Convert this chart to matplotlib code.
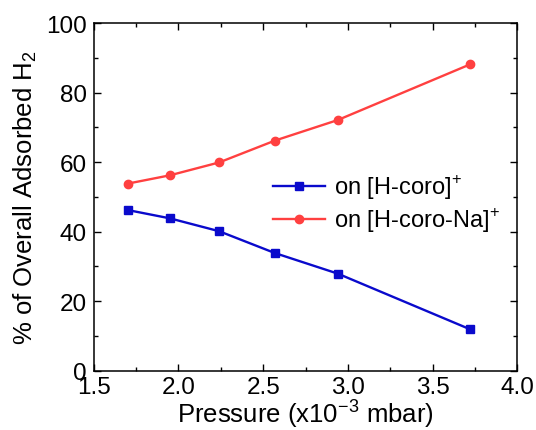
import matplotlib
matplotlib.use("Agg")
import matplotlib.pyplot as plt
from matplotlib.ticker import MultipleLocator

plt.rcParams["font.family"] = ["Liberation Sans", "DejaVu Sans"]
plt.rcParams["mathtext.fontset"] = "custom"
plt.rcParams["mathtext.rm"] = "Liberation Sans"

# data
pressure = [1.70, 1.95, 2.24, 2.57, 2.94, 3.72]
h_coro = [46.2, 43.8, 40.1, 33.8, 27.9, 11.9]
h_coro_na = [53.8, 56.2, 59.9, 66.2, 72.1, 88.1]
labels = ["on [H-coro]$^{+}$", "on [H-coro-Na]$^{+}$"]

fig = plt.figure(figsize=(5.36, 4.31), dpi=100)
ax = fig.add_axes([0.175, 0.138, 0.79, 0.806])

ax.plot(pressure, h_coro, color="#0a0acc", lw=1.7, marker="s", ms=5.5, label=labels[0])
ax.plot(pressure, h_coro_na, color="#ff4040", lw=1.7, marker="o", ms=6, label=labels[1])

ax.set_xlim(1.5, 4.0)
ax.set_ylim(0, 100)
ax.xaxis.set_major_locator(MultipleLocator(0.5))
ax.xaxis.set_minor_locator(MultipleLocator(0.25))
ax.yaxis.set_major_locator(MultipleLocator(20))
ax.yaxis.set_minor_locator(MultipleLocator(10))
ax.xaxis.set_major_formatter(plt.FormatStrFormatter("%.1f"))
ax.tick_params(which="both", direction="in", top=True, right=True, labelsize=17.5)
ax.tick_params(axis="x", pad=4)
ax.tick_params(axis="y", pad=5)
ax.tick_params(which="major", length=5, width=1)
ax.tick_params(which="minor", length=3, width=1)
for s in ax.spines.values():
    s.set_linewidth(1.1)

ax.set_xlabel("Pressure (x10$^{-3}$ mbar)", fontsize=18.5, labelpad=-1.5)
ax.set_ylabel("% of Overall Adsorbed H$_2$", fontsize=18.5, labelpad=5)

ax.legend(loc="upper left", bbox_to_anchor=(0.423, 0.571), frameon=False, fontsize=17,
          handlelength=2.2, handletextpad=0.38, labelspacing=0.2, borderpad=0,
          borderaxespad=0)

fig.savefig("out.png", dpi=100)
